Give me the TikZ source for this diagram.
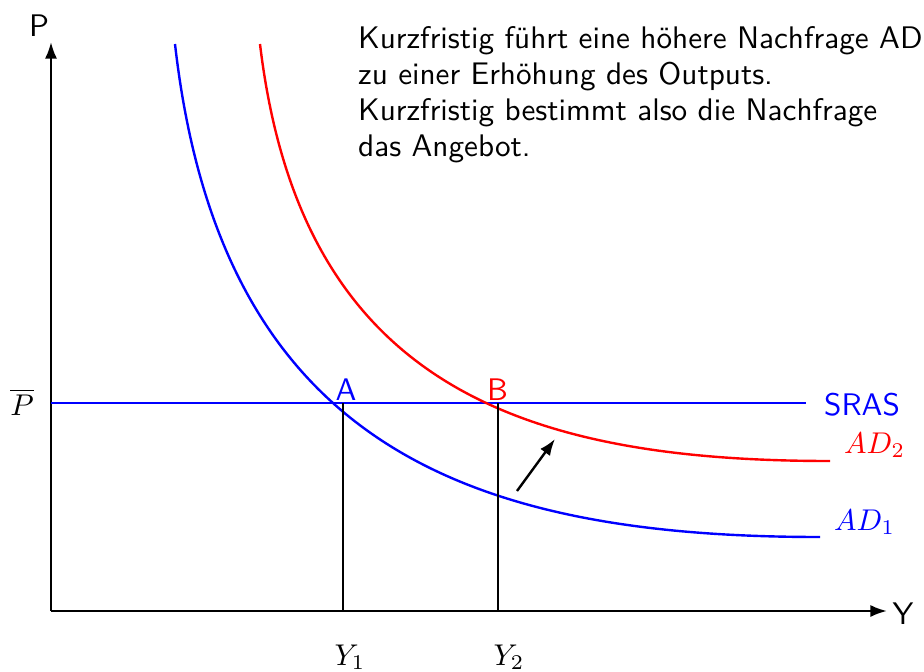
\documentclass[tikz,border=0pt]{standalone}
\usepackage{fontspec}
\usetikzlibrary{arrows.meta}

\begin{document}
\begin{tikzpicture}[x=.3333pt,y=-.3333pt,line width=.8pt,
  txt/.style={font=\sffamily\fontsize{10.4}{12}\selectfont},
  pfeil/.style={-{Latex[length=5.5pt,width=4pt]}}]
\useasboundingbox (0,0) rectangle (924,672);
% Achsen mit Pfeilspitzen
\coordinate (O) at (51,611);
\coordinate (Pend) at (51,42);
\coordinate (Yend) at (887,611);
\draw[pfeil] (O) -- (Pend);
\draw[pfeil] (O) -- (Yend);
\node[txt] (P) at (39,26) {P};
\node[txt] (Y) at (903,614) {Y};
% kurzfristiges Angebot beim festen Preisniveau
\coordinate (S0) at (51,403);
\coordinate (S1) at (806,403);
\draw[blue] (S0) -- (S1);
\node[anchor=base] (Pq) at (22,415) {$\overline{P}$};
\node[txt,blue,anchor=base west,inner sep=0pt] (SRAS) at (823,415) {SRAS};
% Nachfragekurven AD_1 und AD_2
\draw[blue] (175,44) .. controls (220,440) and (460,537) .. (820,537);
\draw[red] (260,44) .. controls (300,379) and (512,461) .. (830,461);
\node[blue,anchor=base west,inner sep=0pt] (AD1) at (833,530) {$AD_1$};
\node[red,anchor=base west,inner sep=0pt] (AD2) at (843,453) {$AD_2$};
% Gleichgewichte A und B, Output Y_1 und Y_2
\coordinate (a) at (343,403);
\coordinate (b) at (498,403);
\coordinate (y1) at (343,611);
\coordinate (y2) at (498,611);
\draw (a) -- (y1);
\draw (b) -- (y2);
\node[txt,blue,anchor=base] (A) at (346,400) {A};
\node[txt,red,anchor=base] (B) at (497.5,400) {B};
\node[anchor=base] (Y1) at (350,665) {$Y_1$};
\node[anchor=base] (Y2) at (509,665) {$Y_2$};
% Verschiebung der Nachfrage
\coordinate (s0) at (517,491);
\coordinate (s1) at (555,439);
\draw[pfeil] (s0) -- (s1);
\node[txt,align=left,anchor=north west,inner sep=0pt] (Text) at (357,25)
  {Kurzfristig führt eine höhere Nachfrage AD\\
   zu einer Erhöhung des Outputs.\\
   Kurzfristig bestimmt also die Nachfrage\\
   das Angebot.};
\end{tikzpicture}
\end{document}
